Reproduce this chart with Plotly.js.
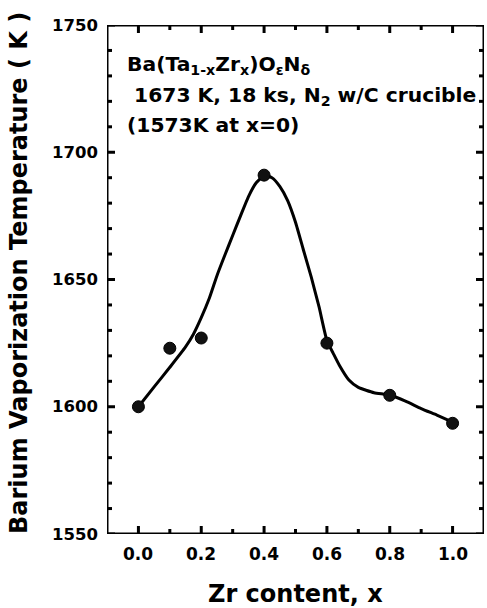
<!DOCTYPE html>
<html>
<head>
<meta charset="utf-8">
<script src="https://cdn.plot.ly/plotly-3.0.1.min.js"></script>
<style>html,body{margin:0;padding:0;background:#fff;}#chart{width:487px;height:608px;}</style>
</head>
<body>
<div id="chart"></div>
<script>
// Measured points
var pointX = [0.0, 0.1, 0.2, 0.4, 0.6, 0.8, 1.0];
var pointY = [1600, 1623, 1627, 1691, 1625, 1604.5, 1593.5];

// Smooth guide curve
var curveX = [0, 0.05, 0.1, 0.15, 0.175, 0.2, 0.225, 0.25, 0.275, 0.3, 0.325, 0.35, 0.375, 0.4, 0.425, 0.45, 0.475, 0.5, 0.525, 0.55, 0.575, 0.6, 0.62, 0.64, 0.67, 0.7, 0.75, 0.8, 0.85, 0.9, 0.95, 1.0];
var curveY = [1600, 1607.8, 1615.5, 1623.5, 1628.5, 1635, 1642.4, 1651.5, 1659.5, 1667.3, 1675, 1682.5, 1688, 1690.8, 1690, 1686.6, 1681, 1672.5, 1661.7, 1651, 1639.2, 1626, 1621, 1616.2, 1610.5, 1607.6, 1605.5, 1604.6, 1602.2, 1599.3, 1596.7, 1594];

// Axes
var xRange = [-0.1, 1.1];
var yRange = [1550, 1750];
var xTickVals = [0, 0.2, 0.4, 0.6, 0.8, 1.0];
var xTickText = ['0.0', '0.2', '0.4', '0.6', '0.8', '1.0'];
var xMinorVals = [0.1, 0.3, 0.5, 0.7, 0.9];
var yTickVals = [1550, 1600, 1650, 1700, 1750];
var yTickText = ['1550', '1600', '1650', '1700', '1750'];
var yMinorVals = [1560, 1570, 1580, 1590, 1610, 1620, 1630, 1640, 1660, 1670, 1680, 1690, 1710, 1720, 1730, 1740];

var F = '"DejaVu Sans", Verdana, sans-serif';

// plot-area size in px (from margins) to convert tick lengths (style) into axis units
var W = 487, H = 608, M = {l: 107, r: 3, t: 25, b: 74};
var pw = W - M.l - M.r, ph = H - M.t - M.b;
var xPerPx = (xRange[1] - xRange[0]) / pw;
var yPerPx = (yRange[1] - yRange[0]) / ph;
var MAJ = 8, MIN = 5;

function xTickSegs(vals, lenPx) {
  var xs = [], ys = [], d = lenPx * yPerPx;
  vals.forEach(function (v) {
    xs.push(v, v, null, v, v, null);
    ys.push(yRange[0], yRange[0] + d, null, yRange[1], yRange[1] - d, null);
  });
  return {x: xs, y: ys};
}
function yTickSegs(vals, lenPx) {
  var xs = [], ys = [], d = lenPx * xPerPx;
  vals.forEach(function (v) {
    xs.push(xRange[0], xRange[0] + d, null, xRange[1], xRange[1] - d, null);
    ys.push(v, v, null, v, v, null);
  });
  return {x: xs, y: ys};
}
var tickStyle = {color: '#000', width: 3};
var segs = [xTickSegs(xTickVals, MAJ), xTickSegs(xMinorVals, MIN), yTickSegs(yTickVals, MAJ), yTickSegs(yMinorVals, MIN)];

var traces = [];
segs.forEach(function (s) {
  traces.push({x: s.x, y: s.y, mode: 'lines', line: tickStyle, cliponaxis: false, hoverinfo: 'skip', connectgaps: false});
});
traces.push({
  x: [xRange[0], xRange[1], xRange[1], xRange[0], xRange[0]],
  y: [yRange[0], yRange[0], yRange[1], yRange[1], yRange[0]],
  mode: 'lines', line: {color: '#000', width: 3}, cliponaxis: false, hoverinfo: 'skip'
});
traces.push({x: curveX, y: curveY, mode: 'lines', line: {color: '#000', width: 3, shape: 'spline', smoothing: 0.5}, hoverinfo: 'skip'});
traces.push({x: pointX, y: pointY, mode: 'markers', marker: {color: '#111', size: 12, line: {color: '#000', width: 1}}});

var tickFont = {family: F, size: 17, color: '#000', weight: 'bold'};
var annotations = [];
xTickVals.forEach(function (v, i) {
  annotations.push({xref: 'x', yref: 'paper', x: v, y: 0, xanchor: 'center', yanchor: 'middle', yshift: -20,
    showarrow: false, text: xTickText[i], font: tickFont});
});
yTickVals.forEach(function (v, i) {
  annotations.push({xref: 'paper', yref: 'y', x: 0, y: v, xanchor: 'right', yanchor: 'middle', xshift: -7,
    showarrow: false, text: yTickText[i], font: {family: F, size: 16.5, color: '#000', weight: 'bold'}});
});
annotations.push(
  {xref: 'paper', yref: 'paper', x: 0.501, y: -0.118, xanchor: 'center', yanchor: 'middle', showarrow: false,
   text: 'Zr content, x', font: {family: F, size: 24, color: '#000', weight: 'bold'}},
  {xref: 'paper', yref: 'paper', x: -0.2334, y: 0.5128, xanchor: 'center', yanchor: 'middle', showarrow: false, textangle: -90,
   text: 'Barium Vaporization Temperature ( K )', font: {family: F, size: 24, color: '#000', weight: 'bold'}},
  {xref: 'paper', yref: 'paper', x: 0.0477, y: 0.922, xanchor: 'left', yanchor: 'middle', showarrow: false, align: 'left',
   text: 'Ba(Ta<sub>1-x</sub>Zr<sub>x</sub>)O<sub>ε</sub>N<sub>δ</sub>', font: {family: F, size: 20.3, color: '#000', weight: 'bold'}},
  {xref: 'paper', yref: 'paper', x: 0.0477, y: 0.8605, xanchor: 'left', yanchor: 'middle', showarrow: false, align: 'left',
   text: '&nbsp;1673 K, 18 ks, N<sub>2</sub> w/C crucible', font: {family: F, size: 20.3, color: '#000', weight: 'bold'}},
  {xref: 'paper', yref: 'paper', x: 0.0477, y: 0.8035, xanchor: 'left', yanchor: 'middle', showarrow: false, align: 'left',
   text: '(1573K at x=0)', font: {family: F, size: 20.3, color: '#000', weight: 'bold'}}
);

var layout = {
  width: W, height: H,
  margin: M,
  paper_bgcolor: '#fff', plot_bgcolor: '#fff',
  showlegend: false,
  xaxis: {range: xRange, showgrid: false, zeroline: false, showticklabels: false, ticks: '', showline: false},
  yaxis: {range: yRange, showgrid: false, zeroline: false, showticklabels: false, ticks: '', showline: false},
  annotations: annotations
};

Plotly.newPlot('chart', traces, layout, {displayModeBar: false});
</script>
</body>
</html>
